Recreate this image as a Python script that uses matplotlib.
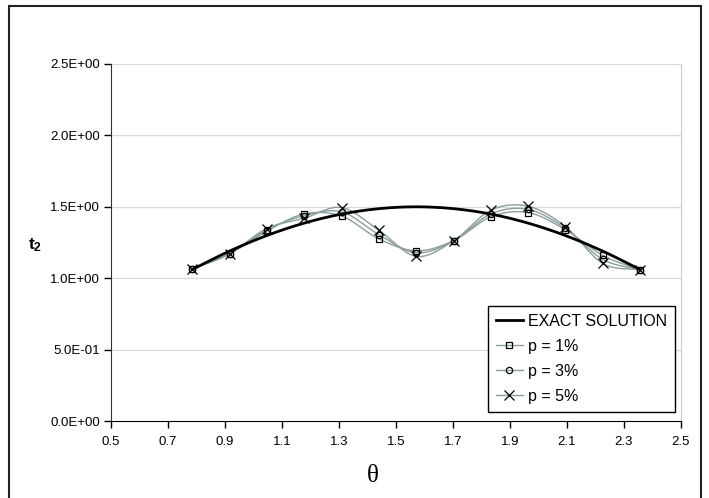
import numpy as np
import matplotlib
matplotlib.use("Agg")
import matplotlib.pyplot as plt
from matplotlib.patches import Rectangle
from matplotlib.lines import Line2D

plt.rcParams['font.family'] = ['Liberation Sans', 'DejaVu Sans']
plt.rcParams['mathtext.fontset'] = 'custom'
plt.rcParams['mathtext.rm'] = 'Liberation Sans'
plt.rcParams['mathtext.bf'] = 'Liberation Sans:bold'

# angulos (rad)
theta = [0.785, 0.916, 1.047, 1.178, 1.309, 1.440, 1.571,
         1.702, 1.833, 1.963, 2.094, 2.225, 2.356]

# solucao exata
t2_exact = [1.061, 1.190, 1.299, 1.386, 1.449, 1.487, 1.500,
            1.487, 1.449, 1.386, 1.299, 1.190, 1.061]

# solucoes com ruido
t2_p1 = [1.065, 1.170, 1.330, 1.450, 1.435, 1.275, 1.192,
         1.262, 1.430, 1.460, 1.340, 1.160, 1.058]
t2_p3 = [1.065, 1.170, 1.340, 1.438, 1.465, 1.305, 1.178,
         1.262, 1.450, 1.482, 1.350, 1.132, 1.058]
t2_p5 = [1.065, 1.172, 1.348, 1.420, 1.495, 1.335, 1.153,
         1.262, 1.476, 1.504, 1.362, 1.104, 1.058]

xticks = [0.5, 0.7, 0.9, 1.1, 1.3, 1.5, 1.7, 1.9, 2.1, 2.3, 2.5]
yticks = [0.0, 0.5, 1.0, 1.5, 2.0, 2.5]
ytick_labels = ['0.0E+00', '5.0E-01', '1.0E+00', '1.5E+00', '2.0E+00', '2.5E+00']


def suaviza(x, y, n=20):
    # curva suavizada tipo Catmull-Rom passando pelos pontos
    x = np.asarray(x, float)
    y = np.asarray(y, float)
    px = np.concatenate([[2 * x[0] - x[1]], x, [2 * x[-1] - x[-2]]])
    py = np.concatenate([[2 * y[0] - y[1]], y, [2 * y[-1] - y[-2]]])
    xs, ys = [], []
    t = np.linspace(0, 1, n, endpoint=False)
    for i in range(1, len(px) - 2):
        for p, out in ((px, xs), (py, ys)):
            p0, p1, p2, p3 = p[i - 1], p[i], p[i + 1], p[i + 2]
            out.extend(0.5 * ((2 * p1) + (-p0 + p2) * t
                              + (2 * p0 - 5 * p1 + 4 * p2 - p3) * t ** 2
                              + (-p0 + 3 * p1 - 3 * p2 + p3) * t ** 3))
    xs.append(x[-1])
    ys.append(y[-1])
    return np.array(xs), np.array(ys)


fig = plt.figure(figsize=(7.09, 4.98), dpi=100)
ax = fig.add_axes([0.1566, 0.1546, 0.8039, 0.7169])

cor_ruido = '#8a9e9e'
for y in yticks[1:]:
    ax.axhline(y, color='#d8dcdc', lw=1.0, zorder=0)

xs, ys = suaviza(theta, t2_exact)
ax.plot(xs, ys, color='black', lw=2.0, zorder=3)

series = [(t2_p1, 's', 5), (t2_p3, 'o', 4.5), (t2_p5, 'x', 7)]
for vals, mk, ms in series:
    xs, ys = suaviza(theta, vals)
    ax.plot(xs, ys, color=cor_ruido, lw=1.0, zorder=2)
    ax.plot(theta, vals, ls='none', marker=mk, ms=ms, mfc='none',
            mec='black', mew=0.9, zorder=4)

ax.set_xlim(0.5, 2.5)
ax.set_ylim(0, 2.5)
ax.set_xticks(xticks)
ax.set_xticklabels([f'{v:.1f}' for v in xticks], fontsize=9.5)
ax.set_yticks(yticks)
ax.set_yticklabels(ytick_labels, fontsize=9.5)
ax.tick_params(direction='out', length=5, width=1, pad=6)
ax.tick_params(axis='y', pad=3)

ax.spines['left'].set_color('#333333')
ax.spines['bottom'].set_color('black')
ax.spines['top'].set_visible(False)
ax.spines['right'].set_color('#c8cece')

fig.text(0.049, 0.508, r'$\mathbf{t_2}$', fontsize=12.5, ha='center', va='center')
fig.text(0.526, 0.044, 'θ', fontsize=18, family='Liberation Serif',
         ha='center', va='center')

handles = [Line2D([], [], color='black', lw=2.0),
           Line2D([], [], color=cor_ruido, lw=1.0, marker='s', ms=5,
                  mfc='none', mec='black', mew=0.9),
           Line2D([], [], color=cor_ruido, lw=1.0, marker='o', ms=4.5,
                  mfc='none', mec='black', mew=0.9),
           Line2D([], [], color=cor_ruido, lw=1.0, marker='x', ms=7,
                  mfc='none', mec='black', mew=0.9)]
leg = fig.legend(handles, ['EXACT SOLUTION', 'p = 1%', 'p = 3%', 'p = 5%'],
                 loc='upper left', bbox_to_anchor=(0.688, 0.3855),
                 fontsize=11.5, frameon=True, fancybox=False, framealpha=1,
                 edgecolor='black', handlelength=1.7, handletextpad=0.3,
                 labelspacing=0.62, borderpad=0.5, borderaxespad=0)
leg.get_frame().set_linewidth(1.0)

# moldura externa
fig.patches.append(Rectangle((0.0127, -0.05), 0.976, 1.038,
                             transform=fig.transFigure, fill=False,
                             edgecolor='#222222', lw=1.5))

plt.savefig('out.png', dpi=100)
